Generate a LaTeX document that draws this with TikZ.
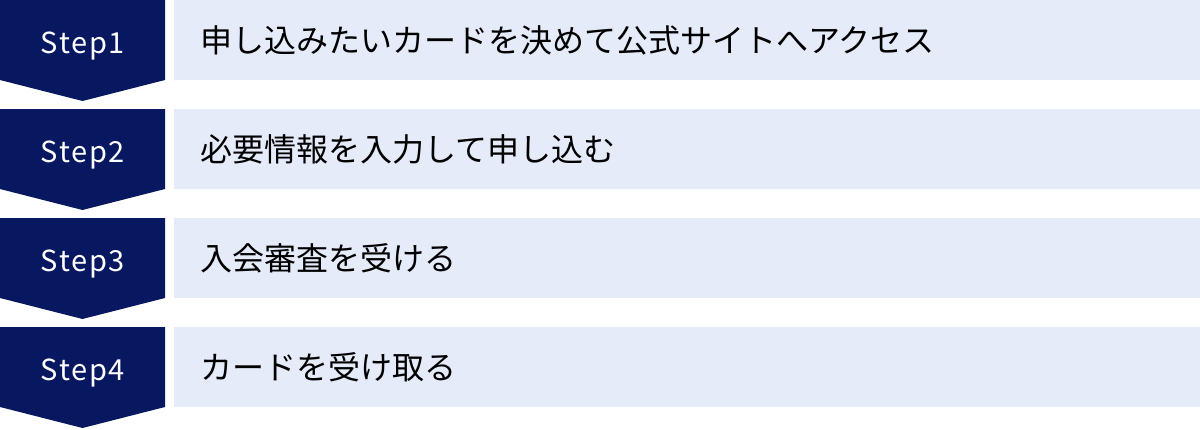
\documentclass[tikz,border=0pt]{standalone}
\usepackage{fontspec}
\setmainfont{Noto Sans}
\newfontfamily\jpfont{Noto Sans CJK JP}
\newfontfamily\stepfont[LetterSpace=6]{Noto Sans CJK JP}
\definecolor{navy}{RGB}{7,24,96}
\definecolor{lightbg}{RGB}{230,235,249}
\begin{document}
\begin{tikzpicture}[x=1pt,y=-1pt,
  stepshape/.style={fill=navy,draw=none},
  barbox/.style={fill=lightbg,draw=none},
  steplabel/.style={text=white,font=\stepfont\fontsize{29}{34}\selectfont,inner sep=0pt,anchor=base},
  desc/.style={text=black,font=\jpfont\fontsize{32}{38}\selectfont,anchor=west,inner sep=0pt}]
\useasboundingbox (0,0) rectangle (1200,429);
\foreach \i/\txt in {0/申し込みたいカードを決めて公式サイトへアクセス,1/必要情報を入力して申し込む,2/入会審査を受ける,3/カードを受け取る}{
  \pgfmathsetmacro{\T}{109*\i}
  \fill[stepshape] (0,\T) -- (165,\T) -- (165,\T+80) -- (82.5,\T+101) -- (0,\T+80) -- cycle;
  \fill[barbox] (174,\T) rectangle (1200,\T+80);
  \pgfmathtruncatemacro{\n}{\i+1}
  \node[steplabel] (s\n) at (83,\T+53) {Step\n};
  \node[desc] (d\n) at (200,\T+40) {\txt};
}
\end{tikzpicture}
\end{document}
